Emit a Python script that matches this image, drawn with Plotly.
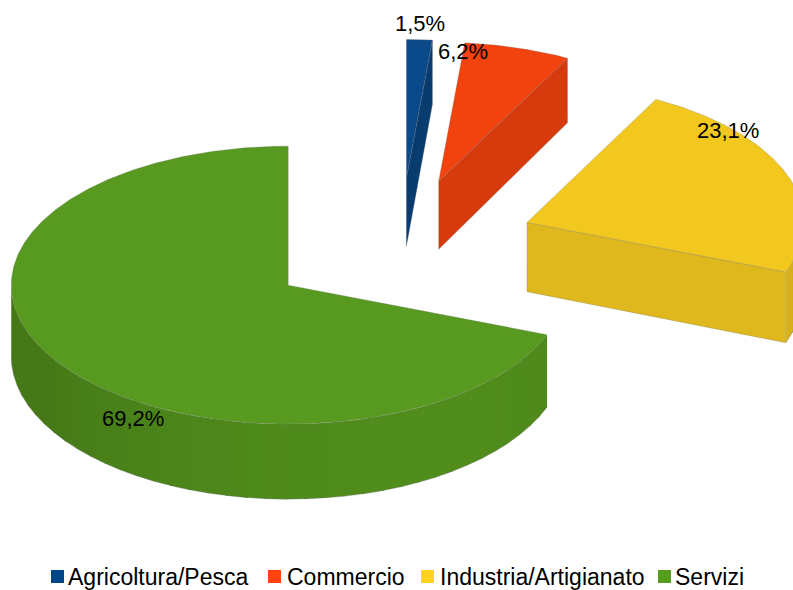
import numpy as np
import plotly.graph_objects as go

# ---------------- data ----------------
categories = ["Agricoltura/Pesca", "Commercio", "Industria/Artigianato", "Servizi"]
values = [1.5, 6.2, 23.1, 69.2]
value_labels = ["1,5%", "6,2%", "23,1%", "69,2%"]

# ---------------- styling / layout constants ----------------
legend_colors = ["#004586", "#ff420e", "#ffd320", "#579d1c"]
top_colors = ["#0b4a8a", "#f2430f", "#f2c81f", "#589a1f"]
face_factor = [0.80, 0.89, 0.92, 0.90]

W, H = 793, 590
CX, CY = 400.0, 246.5      # centre of the (unexploded) top face, px
RX, RY = 277.0, 139.0      # ellipse radii, px
EXPLODE = 0.49             # explosion as fraction of radius
# pseudo-perspective thickness: thinner at the back, thicker at the front
DEPTH_BACK, Y_BACK = 68.0, 177.0
DEPTH_FRONT, Y_FRONT = 75.0, 423.0
LABEL_POS = [(420, 23), (463, 51), (728, 130), (133, 418)]
LEGEND_KEY_X = [51, 268, 421, 658]
LEGEND_TEXT_X = [66, 285, 438, 673]
LEGEND_Y = 576.5
KEY = 13
FONT = "Liberation Sans, Arial, sans-serif"
EDGE = "rgba(110,110,110,0.45)"


def hex_to_rgb(h):
    h = h.lstrip("#")
    return tuple(int(h[i:i + 2], 16) for i in (0, 2, 4))


def shade(h, f):
    r, g, b = hex_to_rgb(h)
    return "rgb(%d,%d,%d)" % (min(255, r * f), min(255, g * f), min(255, b * f))


def ell(theta_deg):
    t = np.radians(theta_deg)
    return RX * np.sin(t), -RY * np.cos(t)


def depth(y):
    return DEPTH_BACK + (y - Y_BACK) * (DEPTH_FRONT - DEPTH_BACK) / (Y_FRONT - Y_BACK)


def side_brightness(theta_deg):
    t = np.radians(theta_deg)
    nx, nfront = np.sin(t), -np.cos(t)
    d = 0.5 * nx + 0.87 * nfront
    return 0.79 + 0.13 * max(0.0, d)


fig = go.Figure()

total = float(sum(values))
start = 0.0
for i, v in enumerate(values):
    span = 360.0 * v / total
    a0, a1 = start, start + span
    start = a1
    mid = 0.5 * (a0 + a1)
    ex, ey = ell(mid)
    px, py = CX + EXPLODE * ex, CY + EXPLODE * ey
    base = top_colors[i]

    # radial faces (only those turned towards the viewer)
    for ang, vis in ((a0, np.sin(np.radians(a0)) < -1e-6), (a1, np.sin(np.radians(a1)) > 1e-6)):
        if vis:
            ox, oy = ell(ang)
            qx, qy = px + ox, py + oy
            xs = [px, qx, qx, px, px]
            ys = [py, qy, qy + depth(qy), py + depth(py), py]
            fig.add_trace(go.Scatter(x=xs, y=ys, fill="toself", mode="lines",
                                     fillcolor=shade(base, face_factor[i]),
                                     line=dict(color=EDGE, width=0.6),
                                     hoverinfo="skip", showlegend=False))

    # outer curved side (front half only), drawn as shaded strips
    lo, hi = max(a0, 90.0), min(a1, 270.0)
    if hi > lo:
        nstrip = max(2, int((hi - lo) / 4))
        edges = np.linspace(lo, hi, nstrip + 1)
        for k in range(nstrip):
            s0, s1 = edges[k], min(hi, edges[k + 1] + 0.6)
            th = np.linspace(s0, s1, 6)
            xs_t = [px + ell(t)[0] for t in th]
            ys_t = [py + ell(t)[1] for t in th]
            xs = xs_t + xs_t[::-1] + [xs_t[0]]
            ys = ys_t + [y + depth(y) for y in ys_t[::-1]] + [ys_t[0]]
            f = side_brightness(0.5 * (s0 + s1))
            fig.add_trace(go.Scatter(x=xs, y=ys, fill="toself", mode="lines",
                                     fillcolor=shade(base, f),
                                     line=dict(width=0),
                                     hoverinfo="skip", showlegend=False))
        th = np.linspace(lo, hi, 120)
        xs_t = [px + ell(t)[0] for t in th]
        ys_t = [py + ell(t)[1] for t in th]
        ys_b = [y + depth(y) for y in ys_t]
        fig.add_trace(go.Scatter(x=xs_t, y=ys_b, mode="lines",
                                 line=dict(color=EDGE, width=0.8),
                                 hoverinfo="skip", showlegend=False))

    # top face
    th = np.linspace(a0, a1, max(3, int(span * 2)))
    xs = [px] + [px + ell(t)[0] for t in th] + [px]
    ys = [py] + [py + ell(t)[1] for t in th] + [py]
    fig.add_trace(go.Scatter(x=xs, y=ys, fill="toself", mode="lines",
                             fillcolor=base,
                             line=dict(color=EDGE, width=0.6),
                             hoverinfo="skip", showlegend=False))

# value labels
for lab, (lx, ly) in zip(value_labels, LABEL_POS):
    fig.add_annotation(x=lx, y=ly, text=lab, showarrow=False,
                       font=dict(family=FONT, size=22, color="#000000"),
                       xanchor="center", yanchor="middle")

# legend (keys + real text)
for name, col, kx, tx in zip(categories, legend_colors, LEGEND_KEY_X, LEGEND_TEXT_X):
    fig.add_shape(type="rect", xref="x", yref="y",
                  x0=kx, x1=kx + KEY, y0=LEGEND_Y - KEY / 2, y1=LEGEND_Y + KEY / 2,
                  fillcolor=col, line=dict(width=0))
    fig.add_annotation(x=tx, y=LEGEND_Y, text=name, showarrow=False,
                       font=dict(family=FONT, size=23, color="#000000"),
                       xanchor="left", yanchor="middle")

fig.update_layout(
    width=W, height=H,
    margin=dict(l=0, r=0, t=0, b=0),
    paper_bgcolor="white", plot_bgcolor="white",
    xaxis=dict(range=[0, W], visible=False, fixedrange=True),
    yaxis=dict(range=[H, 0], visible=False, fixedrange=True),
    showlegend=False,
    font=dict(family=FONT),
)

fig.write_html("out.html")
